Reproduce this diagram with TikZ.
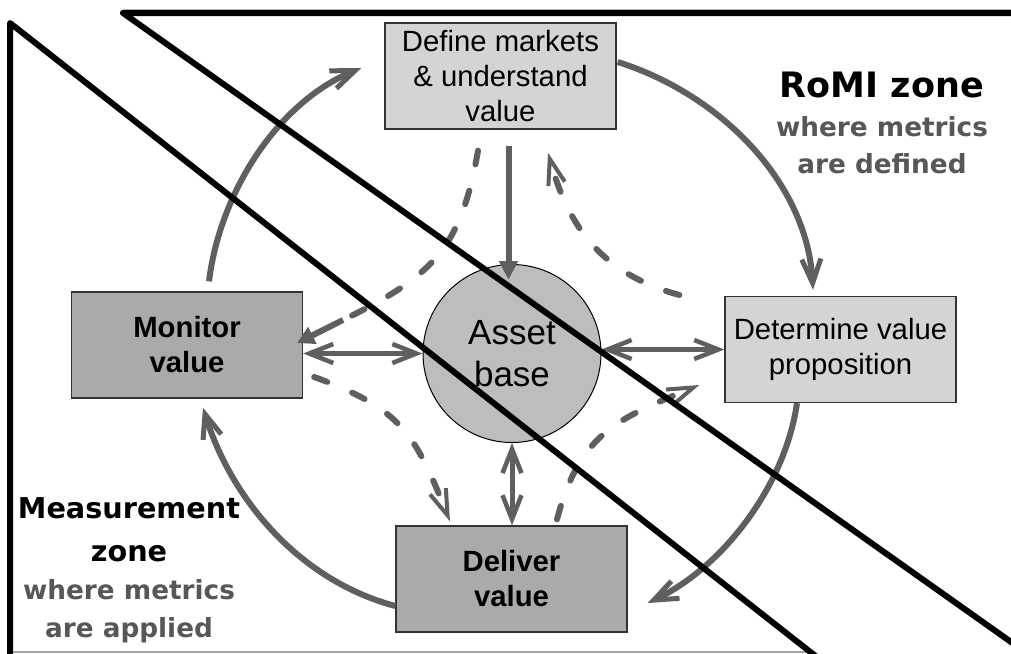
\documentclass[tikz,border=0pt]{standalone}
\usepackage{fontspec}
\setmainfont{Liberation Sans}
\newfontfamily\verd{DejaVu Sans}
\usetikzlibrary{arrows.meta,calc}
\definecolor{arr}{HTML}{5F5F5F}
\definecolor{lightbox}{HTML}{D4D4D4}
\definecolor{darkbox}{HTML}{AAAAAA}
\definecolor{assetfill}{HTML}{BDBDBD}
\definecolor{subgray}{HTML}{575757}
\begin{document}
\begin{tikzpicture}[x=1pt,y=-1pt,
  boxlight/.style={draw=black!80, line width=1.3pt, fill=lightbox, minimum width=231pt, minimum height=106pt, inner sep=0pt, align=center, font=\fontsize{29.3}{35}\selectfont},
  boxdark/.style={boxlight, fill=darkbox, font=\bfseries\fontsize{29.3}{35}\selectfont},
  assetnode/.style={circle, draw=black, line width=1pt, fill=assetfill, minimum size=178pt, inner sep=0pt, align=center, font=\fontsize{35}{42}\selectfont},
  arcarrow/.style={draw=arr, line width=6pt, -{Straight Barb[length=24pt,width=19pt,line width=5pt]}},
  dblarrow/.style={draw=arr, line width=5pt, {Straight Barb[length=24pt,width=19pt,line width=4.5pt]}-{Straight Barb[length=24pt,width=19pt,line width=4.5pt]}},
  dasharrow/.style={draw=arr, line width=6pt, line cap=round, dash pattern=on 14pt off 27pt, -{Straight Barb[length=26pt,width=17pt,line width=4pt]}},
  dashplain/.style={draw=arr, line width=6pt, line cap=round, dash pattern=on 14pt off 27pt},
  zoneline/.style={draw=black, line width=6pt, line join=round, line cap=round},
  ttl/.style={anchor=base, font=\verd\bfseries\fontsize{35}{40}\selectfont},
  ttlm/.style={anchor=base, font=\verd\bfseries\fontsize{28.7}{34}\selectfont},
  subt/.style={anchor=base, text=subgray, font=\verd\bfseries\fontsize{26.3}{30}\selectfont}
]
\useasboundingbox (0,0) rectangle (1011,653);
\fill[white] (0,0) rectangle (1011,653);

% nodes
\node[boxlight] (def) at (500.5,76) {Define markets\\\& understand\\value};
\node[boxdark] (mon) at (187,345) {Monitor\\value};
\node[boxlight] (det) at (840.5,349.5) {Determine value\\proposition};
\node[boxdark] (del) at (511.5,579) {Deliver\\value};
\node[assetnode] (asset) at (512,353.5) {Asset\\base};

% straight arrows
\draw[draw=arr, line width=6pt, -{Triangle[length=19pt,width=18pt]}]
  ([xshift=8pt,yshift=-16pt]def.south) -- ([xshift=8pt,yshift=-16pt]def.south |- asset.north);
\draw[dblarrow] (asset.west -| mon.east) -- (asset.west);
\draw[dblarrow] (det.west -| asset.east) -- (det.west);
\draw[dblarrow] (asset.south) -- (asset.south |- del.north);

% outer cycle arcs
\draw[arcarrow] ($(mon.north)+(22,-10)$) .. controls (220,192) and (278,102) .. ($(def.west)+(-23,-8)$);
\draw[arcarrow] ($(def.east)+(1,-14)$) .. controls (720,94) and (807,182) .. ($(det.north)+(-27.5,-6)$);
\draw[arcarrow] ($(det.south)+(-43.5,0)$) .. controls (785,486) and (723,567) .. ($(del.east)+(20,24)$);
\draw[arcarrow] ($(del.west)+(0,27)$) .. controls (301,581) and (232,501) .. ($(mon.south)+(16,9)$);

% dashed curves
\coordinate (d1b) at (343,320);
\draw[dashplain] ($(def.south)+(-22.5,21)$) .. controls (461,248) and (433,276) .. (d1b);
\draw[draw=arr, line width=6pt, -{Triangle[length=17pt,width=18pt]}] (d1b) -- ($(mon.east)+(-6,-2)$);
\draw[dasharrow] ($(det.west)+(-45,-54.5)$) .. controls (603,274) and (569,229) .. ($(def.south)+(47.5,23)$);
\draw[dasharrow] ($(mon.east)+(11,32)$) .. controls (402,409) and (415,434) .. ($(del.north)+(-61.5,-4)$);
\draw[dasharrow] ($(del.north)+(45.5,-6)$) .. controls (580,433) and (617,419) .. ($(det.west)+(-25,35.5)$);

% zone labels
\node[ttl] (romi) at (882,97) {RoMI zone};
\node[subt] (romis1) at (882,136) {where metrics};
\node[subt] (romis2) at (882,173) {are defined};
\node[ttlm] (meas1) at (129,518) {Measurement};
\node[ttlm] (meas2) at (129,561) {zone};
\node[subt] (meass1) at (129,599) {where metrics};
\node[subt] (meass2) at (129,637) {are applied};

% zone boundaries
\draw[draw=black!30, line width=1pt] (123,9.5) -- (1011,9.5);
\draw[draw=black!35, line width=1.2pt] (10,652) -- (810,652);
\draw[zoneline] (1015,13) -- (123,13) -- (1015,644.8);
\draw[zoneline] (10,660) -- (10,23) -- (818,658);
\end{tikzpicture}
\end{document}
